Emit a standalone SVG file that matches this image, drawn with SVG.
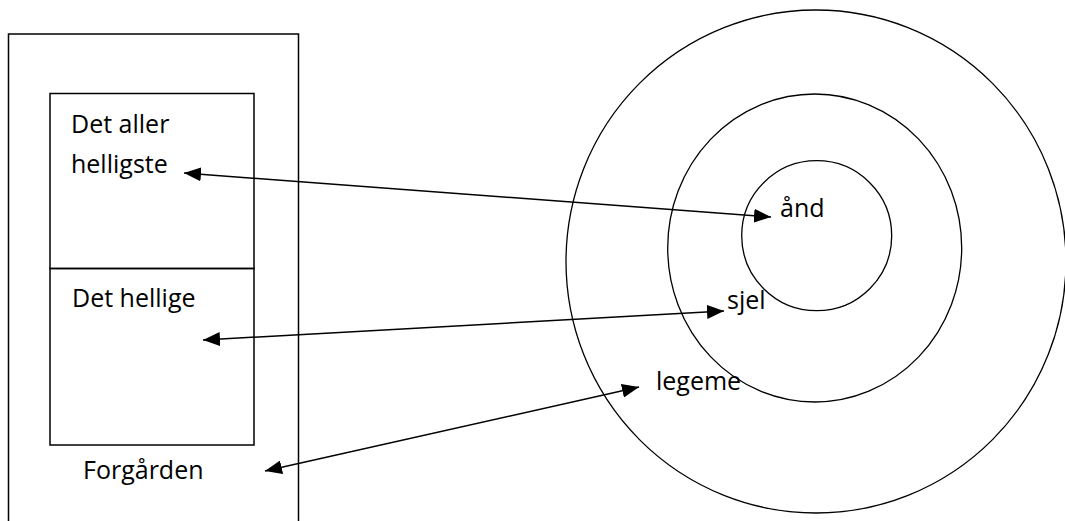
<svg xmlns="http://www.w3.org/2000/svg" width="1065" height="521" viewBox="0 0 1065 521">
<style>
.box{fill:none;stroke:#000;stroke-width:1.5}
.ring{fill:none;stroke:#000;stroke-width:1.3}
.lbl{font-family:"Open Sans","Liberation Sans",sans-serif;font-size:25px;fill:#000}
.conn{stroke:#000;stroke-width:1.5;fill:none;marker-start:url(#ah);marker-end:url(#ah)}
</style>
<defs>
<marker id="ah" viewBox="0 0 17 14" refX="17" refY="7" markerWidth="17" markerHeight="14" markerUnits="userSpaceOnUse" orient="auto-start-reverse">
<path d="M0,0 L17,7 L0,14 Z" fill="#000"/>
</marker>
</defs>
<rect width="1065" height="521" fill="#fff"/>
<g id="tabernakel">
<rect class="box" x="8.5" y="34" width="290" height="500"/>
<text class="lbl" x="83" y="479">Forgården</text>
</g>
<g id="det-aller-helligste">
<rect class="box" x="50" y="93.5" width="204" height="175"/>
<text class="lbl" x="71" y="133">Det aller</text>
<text class="lbl" x="71" y="173">helligste</text>
</g>
<g id="det-hellige">
<rect class="box" x="50" y="268.5" width="204" height="176.5"/>
<text class="lbl" x="72" y="307">Det hellige</text>
</g>
<g id="legeme">
<ellipse class="ring" cx="816" cy="261.5" rx="250" ry="251.5"/>
<text class="lbl" x="656" y="390">legeme</text>
</g>
<g id="sjel">
<ellipse class="ring" cx="814.7" cy="248" rx="147" ry="154"/>
<text class="lbl" x="727" y="309">sjel</text>
</g>
<g id="aand">
<ellipse class="ring" cx="816.7" cy="235.7" rx="75" ry="75"/>
<text class="lbl" x="780" y="217">ånd</text>
</g>
<g id="connectors">
<line class="conn" x1="184" y1="173" x2="771" y2="217"/>
<line class="conn" x1="203" y1="340" x2="724" y2="311"/>
<line class="conn" x1="265" y1="471" x2="639" y2="387"/>
</g>
</svg>
